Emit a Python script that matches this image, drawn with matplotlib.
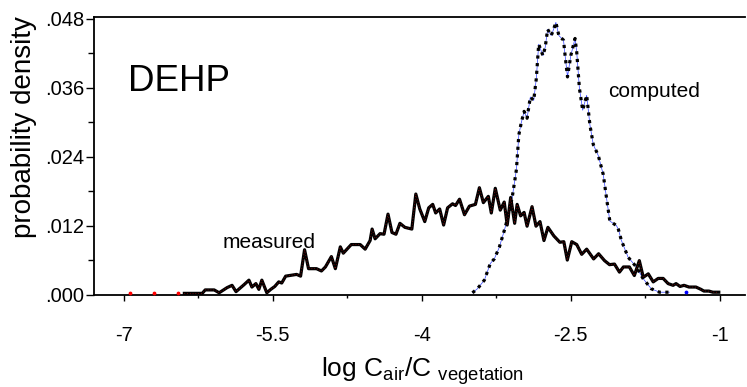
import matplotlib
matplotlib.use('Agg')
import matplotlib.pyplot as plt
from matplotlib.ticker import FixedLocator, FuncFormatter

# measured distribution (log Cair/Cveg, density)
measured_x = [-6.39, -6.21, -6.18, -6.09, -6.04, -5.96, -5.91, -5.87, -5.79, -5.74,
	-5.71, -5.67, -5.64, -5.61, -5.56, -5.52, -5.48, -5.44, -5.41, -5.37,
	-5.26, -5.22, -5.18, -5.14, -5.06, -5.01, -4.97, -4.91, -4.87, -4.82,
	-4.79, -4.71, -4.62, -4.57, -4.52, -4.50, -4.47, -4.42, -4.38, -4.34,
	-4.30, -4.26, -4.22, -4.17, -4.10, -4.06, -4.02, -3.97, -3.93, -3.89,
	-3.86, -3.82, -3.78, -3.74, -3.69, -3.66, -3.62, -3.57, -3.52, -3.46,
	-3.42, -3.38, -3.33, -3.30, -3.26, -3.21, -3.17, -3.14, -3.105, -3.065,
	-3.04, -3.005, -2.97, -2.94, -2.89, -2.85, -2.81, -2.77, -2.73, -2.67,
	-2.61, -2.57, -2.535, -2.49, -2.44, -2.39, -2.34, -2.27, -2.22, -2.16,
	-2.11, -2.06, -2.01, -1.97, -1.91, -1.86, -1.81, -1.77, -1.72, -1.67,
	-1.62, -1.57, -1.52, -1.47, -1.44, -1.40, -1.36, -1.31, -1.24, -1.19,
	-1.16, -1.11, -1.07, -1.01]
measured_y = [0.2, 0.2, 0.8, 0.8, 0.3, 1.2, 1.6, 0.5, 1.7, 2.5,
	1.3, 1.9, 0.9, 2.5, 0.3, 0.9, 1.4, 2.2, 2.0, 3.2,
	3.5, 3.2, 7.8, 4.5, 4.5, 4.1, 4.8, 6.6, 4.5, 8.3,
	7.2, 8.7, 8.7, 7.9, 9.4, 11.4, 9.7, 10.6, 10.5, 14.0,
	10.8, 10.5, 12.4, 11.7, 11.4, 17.5, 14.9, 12.7, 15.1, 15.7,
	14.2, 14.9, 12.1, 15.1, 15.8, 15.5, 16.6, 13.9, 15.4, 15.7,
	18.6, 16.0, 17.1, 14.2, 18.5, 14.7, 16.1, 12.1, 16.9, 12.4,
	15.7, 13.7, 14.3, 11.9, 15.3, 11.9, 12.7, 9.4, 11.7, 10.2,
	9.1, 9.2, 6.0, 9.2, 8.7, 7.0, 7.9, 6.2, 7.1, 5.9,
	5.2, 5.3, 3.9, 4.8, 4.8, 3.3, 5.9, 3.0, 3.6, 2.2,
	2.8, 2.8, 1.9, 1.6, 1.9, 1.4, 1.6, 1.3, 1.3, 0.9,
	0.6, 0.6, 0.4, 0.4]

# computed distribution
computed_x = [-3.49, -3.44, -3.37, -3.31, -3.27, -3.22, -3.17, -3.12, -3.09, -3.065,
	-3.047, -3.023, -3.00, -2.97, -2.94, -2.907, -2.873, -2.847, -2.823, -2.78,
	-2.757, -2.733, -2.697, -2.673, -2.65, -2.62, -2.573, -2.557, -2.533, -2.50,
	-2.457, -2.44, -2.413, -2.38, -2.34, -2.307, -2.273, -2.223, -2.173, -2.14,
	-2.107, -2.04, -2.02, -1.99, -1.923, -1.84, -1.773, -1.69, -1.607, -1.507]
computed_y = [0.3, 1.0, 2.5, 5.4, 6.2, 8.2, 11.1, 14.3, 16.9, 19.7,
	21.8, 27.8, 29.8, 31.9, 30.7, 34.4, 33.8, 37.6, 43.6, 41.6,
	43.1, 46.2, 45.1, 46.2, 47.4, 45.1, 44.3, 41.6, 37.9, 41.6,
	44.6, 42.2, 35.9, 32.1, 34.7, 29.5, 26.1, 24.2, 20.9, 16.8,
	12.8, 12.0, 11.3, 9.4, 6.5, 4.8, 2.8, 1.0, 0.4, 0.4]

# stray single points near zero
stray_red_x = [-6.94, -6.70, -6.45]
stray_blue_x = [-1.34]

x_ticks = [-7, -5.5, -4, -2.5, -1]
x_tick_labels = ['-7', '-5.5', '-4', '-2.5', '-1']
y_ticks = [0.000, 0.012, 0.024, 0.036, 0.048]


def draw_graph():
	plt.rcParams['font.family'] = ['Liberation Sans', 'DejaVu Sans']
	plt.rcParams['mathtext.fontset'] = 'custom'
	plt.rcParams['mathtext.rm'] = 'Liberation Sans'
	plt.rcParams['mathtext.it'] = 'Liberation Sans'

	fig = plt.figure(figsize=(7.47, 3.87), dpi=100)
	ax = fig.add_axes([0.1258, 0.239, 0.871, 0.718])

	my = [v / 1000 for v in measured_y]
	cy = [v / 1000 for v in computed_y]

	ax.plot(computed_x, cy, color='#3040ff', lw=0.5, zorder=2)
	ax.plot(computed_x, cy, color='black', lw=2.3, linestyle=(0, (1, 1.4)), zorder=3)
	ax.plot(measured_x, my, color='black', lw=2.3, zorder=4)
	ax.plot(measured_x, my, color='#c01010', lw=0.5, linestyle=(0, (1, 3)), zorder=5)

	ax.scatter(stray_red_x, [0.0003] * len(stray_red_x), s=3, color='red', zorder=5)
	ax.scatter(stray_blue_x, [0.0004], s=3, color='blue', zorder=5)

	ax.set_xlim(-7.3, -0.75)
	ax.set_ylim(0, 0.0484)

	ax.xaxis.set_major_locator(FixedLocator(x_ticks))
	ax.set_xticklabels(x_tick_labels)
	ax.xaxis.set_minor_locator(FixedLocator([t + 0.75 for t in x_ticks[:-1]]))
	ax.yaxis.set_major_locator(FixedLocator(y_ticks))
	ax.yaxis.set_minor_locator(FixedLocator([t + 0.006 for t in y_ticks[:-1]]))
	ax.yaxis.set_major_formatter(FuncFormatter(lambda v, p: ('%.3f' % v)[1:]))

	ax.tick_params(axis='x', which='major', direction='out', length=4, width=1,
		pad=19, labelsize=14.5)
	ax.tick_params(axis='x', which='minor', direction='out', length=2.5, width=1)
	ax.tick_params(axis='y', which='major', direction='out', length=6, width=1,
		pad=1, labelsize=14.5)
	ax.tick_params(axis='y', which='minor', direction='out', length=4, width=1)

	ax.spines['right'].set_visible(False)
	for s in ['left', 'top', 'bottom']:
		ax.spines[s].set_linewidth(1.3)

	ax.set_ylabel('probability density', fontsize=20)
	ax.yaxis.set_label_coords(-0.087, 0.603)
	ax.set_xlabel(r'log C$_{\mathregular{air}}$/C $_{\mathregular{vegetation}}$', fontsize=19)
	ax.xaxis.set_label_coords(0.505, -0.22)

	ax.text(-6.96, 0.0371, 'DEHP', fontsize=26.5, va='center', ha='left')
	ax.text(-2.12, 0.0353, 'computed', fontsize=15, va='center', ha='left')
	ax.text(-6.01, 0.0090, 'measured', fontsize=15, va='center', ha='left')

	fig.savefig('out.png', dpi=100)


def main():
	draw_graph()


if __name__ == "__main__":
	main()
